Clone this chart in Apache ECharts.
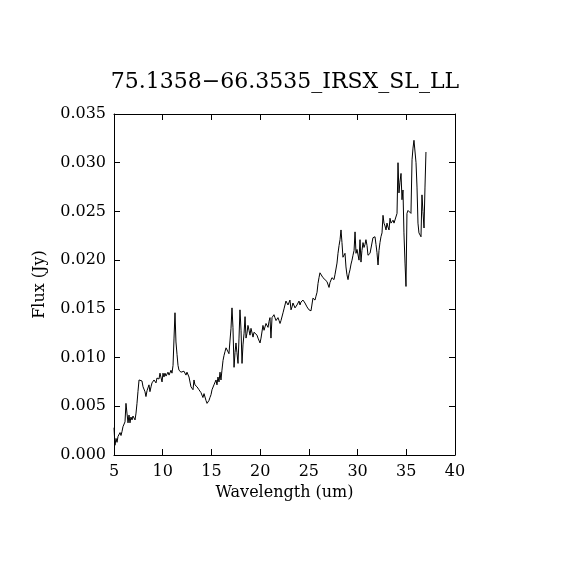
<!DOCTYPE html>
<html>
<head>
<meta charset="utf-8">
<script src="https://cdn.jsdelivr.net/npm/echarts@6/dist/echarts.min.js"></script>
<style>html,body{margin:0;padding:0;background:#fff}#c{width:570px;height:570px}</style>
</head>
<body>
<div id="c"></div>
<script>
const titleText = "75.1358\u221266.3535_IRSX_SL_LL";
const xName = "Wavelength (um)";
const yName = "Flux (Jy)";
const wavelength = [
5.00,5.10,5.21,5.31,5.41,5.51,5.62,5.72,5.82,5.92,6.03,6.13,6.23,6.33,6.44,6.54,6.64,6.74,6.85,6.95,
7.05,7.16,7.26,7.36,7.46,7.57,7.67,7.77,7.87,7.98,8.08,8.18,8.28,8.39,8.49,8.59,8.69,8.80,8.90,9.00,
9.11,9.21,9.31,9.41,9.52,9.62,9.72,9.82,9.93,10.03,10.13,10.23,10.34,10.44,10.54,10.65,10.75,10.85,10.95,11.06,
11.16,11.26,11.36,11.47,11.57,11.67,11.77,11.88,11.98,12.08,12.18,12.29,12.39,12.49,12.59,12.70,12.80,12.90,13.00,13.11,
13.21,13.31,13.42,13.52,13.62,13.72,13.82,13.93,14.03,14.13,14.24,14.34,14.44,14.55,14.65,14.75,14.85,14.96,15.06,15.16,
15.26,15.37,15.47,15.57,15.67,15.78,15.88,15.98,16.08,16.19,16.29,16.39,16.50,16.60,16.70,16.80,16.91,17.01,17.11,17.21,
17.32,17.42,17.52,17.62,17.73,17.83,17.93,18.04,18.14,18.24,18.35,18.45,18.55,18.65,18.75,18.86,18.96,19.06,19.16,19.27,
19.37,19.47,19.57,19.68,19.78,19.88,19.99,20.09,20.19,20.29,20.40,20.50,20.60,20.70,20.81,20.91,21.01,21.11,21.22,21.32,
21.42,21.52,21.63,21.73,21.83,21.94,22.04,22.14,22.24,22.35,22.45,22.55,22.65,22.76,22.86,22.96,23.06,23.17,23.27,23.37,
23.47,23.58,23.68,23.78,23.89,23.99,24.09,24.19,24.30,24.40,24.50,24.60,24.71,24.81,24.91,25.01,25.12,25.22,25.32,25.42,
25.53,25.63,25.73,25.84,25.94,26.04,26.14,26.45,26.86,27.07,27.17,27.37,27.48,27.58,27.68,27.79,27.89,27.99,28.10,28.20,
28.30,28.40,28.50,28.61,28.71,28.81,28.91,29.02,29.12,29.22,29.33,29.43,29.53,29.64,29.74,29.84,29.94,30.04,30.15,30.25,
30.35,30.45,30.56,30.66,30.76,30.86,30.97,31.07,31.17,31.28,31.38,31.48,31.58,31.69,31.79,31.89,31.99,32.10,32.20,32.30,
32.40,32.51,32.61,32.71,32.82,32.92,33.02,33.12,33.23,33.33,33.43,33.53,33.64,33.74,33.84,33.94,34.05,34.15,34.25,34.35,
34.46,34.56,34.66,34.76,34.87,34.97,35.07,35.18,35.28,35.38,35.48,35.59,35.69,35.79,35.89,36.00,36.10,36.20,36.30,36.41,
36.51,36.61,36.71,36.82,36.92,37.02
];
const flux = [
0.0028,0.0010,0.0017,0.0013,0.0019,0.0017,0.0023,0.0020,0.0024,0.0029,0.0028,0.0034,0.0053,0.0043,0.0033,0.0041,0.0033,0.0039,0.0036,0.0040,
0.0039,0.0036,0.0043,0.0053,0.0065,0.0077,0.0075,0.0078,0.0076,0.0070,0.0069,0.0065,0.0060,0.0066,0.0067,0.0072,0.0065,0.0070,0.0074,0.0072,
0.0077,0.0078,0.0074,0.0079,0.0080,0.0078,0.0084,0.0082,0.0075,0.0084,0.0080,0.0084,0.0081,0.0082,0.0085,0.0082,0.0084,0.0087,0.0084,0.0092,
0.0120,0.0146,0.0116,0.0103,0.0092,0.0087,0.0085,0.0085,0.0087,0.0084,0.0086,0.0087,0.0082,0.0085,0.0083,0.0080,0.0082,0.0070,0.0072,0.0067,
0.0077,0.0072,0.0071,0.0070,0.0069,0.0067,0.0068,0.0064,0.0065,0.0059,0.0063,0.0065,0.0056,0.0053,0.0054,0.0056,0.0059,0.0062,0.0067,0.0068,
0.0072,0.0070,0.0077,0.0072,0.0080,0.0075,0.0085,0.0077,0.0087,0.0097,0.0102,0.0106,0.0110,0.0108,0.0112,0.0104,0.0118,0.0130,0.0151,0.0131,
0.0090,0.0105,0.0115,0.0105,0.0094,0.0120,0.0149,0.0128,0.0094,0.0113,0.0125,0.0142,0.0120,0.0125,0.0133,0.0128,0.0123,0.0130,0.0128,0.0121,
0.0126,0.0128,0.0125,0.0123,0.0120,0.0119,0.0115,0.0120,0.0122,0.0133,0.0128,0.0130,0.0135,0.0135,0.0131,0.0137,0.0141,0.0120,0.0141,0.0140,
0.0144,0.0141,0.0138,0.0138,0.0141,0.0138,0.0135,0.0138,0.0138,0.0146,0.0150,0.0152,0.0158,0.0159,0.0154,0.0152,0.0159,0.0149,0.0152,0.0156,
0.0154,0.0151,0.0153,0.0154,0.0156,0.0158,0.0154,0.0157,0.0158,0.0159,0.0157,0.0156,0.0154,0.0152,0.0150,0.0149,0.0147,0.0148,0.0150,0.0161,
0.0160,0.0159,0.0163,0.0167,0.0176,0.0182,0.0187,0.0182,0.0178,0.0172,0.0177,0.0182,0.0181,0.0180,0.0185,0.0185,0.0197,0.0207,0.0215,0.0221,
0.0231,0.0218,0.0203,0.0205,0.0207,0.0193,0.0185,0.0180,0.0186,0.0190,0.0196,0.0200,0.0205,0.0210,0.0229,0.0207,0.0211,0.0213,0.0200,0.0221,
0.0198,0.0210,0.0218,0.0213,0.0216,0.0221,0.0215,0.0205,0.0207,0.0207,0.0206,0.0208,0.0223,0.0222,0.0224,0.0216,0.0208,0.0195,0.0210,0.0218,
0.0224,0.0228,0.0246,0.0238,0.0235,0.0231,0.0238,0.0234,0.0231,0.0243,0.0238,0.0236,0.0241,0.0238,0.0236,0.0240,0.0248,0.0300,0.0269,0.0280,
0.0289,0.0262,0.0272,0.0228,0.0197,0.0173,0.0248,0.0251,0.0249,0.0253,0.0248,0.0303,0.0315,0.0323,0.0325,0.0300,0.0275,0.0238,0.0228,0.0226,
0.0224,0.0267,0.0250,0.0233,0.0275,0.0311
];
const xMin = 5, xMax = 40, xStep = 5;
const yMin = 0, yMax = 0.035, yStep = 0.005;

const F = "DejaVu Serif";
const chart = echarts.init(document.getElementById('c'), null, {renderer:'canvas'});
const axisCommon = {
  axisLine:{show:true,onZero:false,lineStyle:{color:'#000',width:1}},
  axisTick:{show:true,inside:true,length:6,lineStyle:{color:'#000',width:1}},
  splitLine:{show:false}
};
chart.setOption({
  backgroundColor:'#fff',
  animation:false,
  title:{text:titleText,left:'center',top:66,textStyle:{fontFamily:F,fontSize:22,fontWeight:'normal',color:'#000'}},
  grid:{left:114,right:115,top:114,bottom:115,containLabel:false},
  xAxis:[
    Object.assign({type:'value',min:xMin,max:xMax,interval:xStep,position:'bottom',
      name:xName,nameLocation:'middle',nameGap:29,
      nameTextStyle:{fontFamily:F,fontSize:16,color:'#000'},
      axisLabel:{fontFamily:F,fontSize:16,color:'#000',margin:9}},axisCommon),
    Object.assign({type:'value',min:xMin,max:xMax,interval:xStep,position:'top',axisLabel:{show:false}},axisCommon)
  ],
  yAxis:[
    Object.assign({type:'value',min:yMin,max:yMax,interval:yStep,position:'left',
      name:yName,nameLocation:'middle',nameGap:66,nameRotate:90,
      nameTextStyle:{fontFamily:F,fontSize:16,color:'#000'},
      axisLabel:{fontFamily:F,fontSize:16,color:'#000',margin:8,formatter:v=>v.toFixed(3)}},axisCommon),
    Object.assign({type:'value',min:yMin,max:yMax,interval:yStep,position:'right',axisLabel:{show:false}},axisCommon)
  ],
  series:[{
    type:'line',
    data:wavelength.map((w,i)=>[w,flux[i]]),
    showSymbol:false,
    symbol:'none',
    lineStyle:{color:'#000',width:1},
    clip:true
  }]
});
</script>
</body>
</html>
